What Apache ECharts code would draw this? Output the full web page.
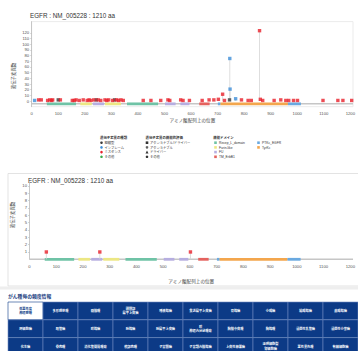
<!DOCTYPE html>
<html><head><meta charset="utf-8">
<script src="https://cdn.jsdelivr.net/npm/echarts@6/dist/echarts.min.js"></script>
<style>html,body{margin:0;padding:0;background:#fff}#c{width:358px;height:351px}</style>
</head><body><div id="c"></div>
<script>
// ---------------- data ----------------
const geneTitle = 'EGFR : NM_005228 : 1210 aa';
const proteinLength = 1210;
const xAxisName = 'アミノ酸配列上の位置';
const yAxisName = '遺伝子変異数';

const mutTypes = ['短縮型', 'インフレーム', 'ミスセンス', 'その他'];
const mutTypeColors = ['#3a3a3a', '#3f8fd8', '#e8212b', '#3aab4a'];
const evalTypes = ['アクショナブル/ドライバー', 'アクショナブル', 'ドライバー', 'その他'];
const evalSymbols = ['rect', 'cross', 'triangle', 'circle'];

const domainNames = ['Recep_L_domain', 'Furin-like', 'FU', 'TM_ErbB1', 'PTKc_EGFR', 'TyrKc'];
const domainColors = ['#6fc3a6', '#ece783', '#b6aee0', '#e4625e', '#6aa9e0', '#f3a64d'];
const domainStarts = [57, 183, 231, 276, 359, 502, 560, 631, 701, 711, 965];
const domainEnds   = [167, 226, 272, 336, 476, 542, 594, 670, 711, 965, 1014];
const domainKinds  = [0, 1, 2, 1, 0, 2, 2, 3, 4, 5, 4];

// top chart: all registered variants
const topPos   = [11, 26, 36, 60, 68, 75, 79, 100, 108, 153, 160, 167, 179, 194, 209, 216, 223, 234, 243, 250, 260, 276, 283, 290, 305, 312, 320, 327, 336, 345, 420, 449, 486, 513, 520, 561, 570, 594, 642, 668, 686, 703, 719, 726, 745, 746, 747, 768, 790, 815, 827, 858, 861, 870, 913, 938, 957, 968, 986, 1001, 1097, 1153, 1172, 1205];
const topCount = [1, 2, 2, 1, 2, 1, 2, 2, 2, 1, 1, 2, 1, 2, 1, 2, 1, 2, 2, 2, 1, 2, 1, 2, 1, 2, 2, 1, 2, 1, 1, 1, 1, 2, 1, 2, 1, 1, 1, 2, 2, 3, 12, 1, 2, 75, 21, 4, 2, 1, 1, 124, 3, 1, 1, 2, 1, 1, 1, 1, 1, 1, 1, 1];
const topType  = [1, 2, 2, 2, 2, 2, 2, 0, 2, 2, 2, 2, 2, 2, 2, 2, 2, 2, 0, 2, 2, 2, 2, 2, 2, 0, 2, 2, 2, 2, 2, 2, 2, 2, 2, 2, 2, 2, 2, 2, 2, 2, 2, 2, 0, 1, 1, 1, 2, 2, 2, 2, 2, 2, 2, 2, 2, 2, 2, 2, 2, 2, 2, 2];

// bottom chart: selected cancer type
const botPos   = [63, 263, 602];
const botCount = [1, 1, 1];
const botType  = [2, 2, 2];

const topYTicks = [0, 10, 20, 30, 40, 50, 60, 70, 80, 90, 100, 110, 120];
const botYTicks = [1, 2, 3, 4, 5, 6, 7, 8, 9, 10];

const tableTitle = 'がん種毎の頻度情報';
const cancerTypes = [
  '低悪性度\n神経膠腫', '多形膠芽腫', '髄膜腫', '頭頸部\n扁平上皮癌', '唾液腺癌', '食道扁平上皮癌', '胃腺癌', '小腸癌', '結腸腺癌', '直腸腺癌',
  '肝細胞癌', '胆管癌', '膵腺癌', '肺腺癌', '肺扁平上皮癌', '膵\n神経内分泌腫瘍', '胸膜中皮腫', '胸腺腫', '浸潤性乳管癌', '浸潤性小葉癌',
  '化生癌', '骨肉腫', '消化管間質腫瘍', '軟部肉腫', '子宮頸癌', '子宮類内膜腺癌', '上皮性卵巣癌', '淡明細胞型\n腎細胞癌', '悪性黒色腫', '有棘細胞癌'
];
const selectedCancer = 0;

// ---------------- chart ----------------
const FONT = "'Liberation Sans','Noto Sans CJK JP',sans-serif";
const chart = echarts.init(document.getElementById('c'), null, {renderer: 'svg'});

function pts(pos, cnt, typ, t) {
  const out = [];
  pos.forEach((p, i) => { if (typ[i] === t) out.push([p, cnt[i]]); });
  return out;
}
function stems(pos, cnt) { return pos.map((p, i) => [p, cnt[i]]); }
function domains(yb) { return domainStarts.map((s, i) => [s, domainEnds[i], domainKinds[i], yb]); }

function backboneItem(params, api) {
  const a = api.coord([api.value(0), api.value(2)]);
  const b = api.coord([api.value(1), api.value(2)]);
  return {type: 'line', shape: {x1: a[0], y1: a[1], x2: b[0], y2: b[1]}, style: {stroke: '#c6c6c6', lineWidth: 1.5}};
}
function domainItem(params, api) {
  const a = api.coord([api.value(0), api.value(3)]);
  const b = api.coord([api.value(1), api.value(3)]);
  return {type: 'rect', shape: {x: a[0], y: a[1] - 1.4, width: b[0] - a[0], height: 2.8}, style: {fill: domainColors[api.value(2)]}};
}
function stemItem(params, api) {
  const a = api.coord([api.value(0), 0]);
  const b = api.coord([api.value(0), api.value(1)]);
  return {type: 'line', shape: {x1: a[0], y1: a[1], x2: b[0], y2: b[1]}, style: {stroke: '#d4d4d4', lineWidth: 0.8}};
}

function chartSeries(idx, pos, cnt, typ, yb) {
  const s = [
    {type: 'custom', xAxisIndex: idx, yAxisIndex: idx, renderItem: backboneItem, data: [[0, proteinLength, yb]], silent: true, z: 1},
    {type: 'custom', xAxisIndex: idx, yAxisIndex: idx, renderItem: domainItem, data: domains(yb), silent: true, z: 2},
    {type: 'custom', xAxisIndex: idx, yAxisIndex: idx, renderItem: stemItem, data: stems(pos, cnt), silent: true, z: 3}
  ];
  mutTypes.forEach((m, t) => {
    s.push({type: 'scatter', name: m, xAxisIndex: idx, yAxisIndex: idx, symbol: 'rect', symbolSize: 3.4,
      itemStyle: {color: mutTypeColors[t]}, data: pts(pos, cnt, typ, t), z: 4});
  });
  return s;
}

const axisLabelStyle = {fontSize: 4.2, color: '#555', fontFamily: FONT};

function xAx(idx, gap) {
  return {type: 'value', gridIndex: idx, min: 0, max: proteinLength, interval: 100,
    name: xAxisName, nameLocation: 'middle', nameGap: gap,
    nameTextStyle: {fontSize: 4.6, color: '#444', fontFamily: FONT},
    axisLine: {show: false}, axisTick: {show: false}, splitLine: {show: false},
    axisLabel: Object.assign({margin: 5, showMaxLabel: false, formatter: v => String(v)}, axisLabelStyle)};
}
function yAx(idx, min, max, interval, ticks) {
  return {type: 'value', gridIndex: idx, min: min, max: max, interval: interval,
    axisLine: {show: true, lineStyle: {color: '#bbb', width: 0.8}},
    axisTick: {show: true, length: 1.5, lineStyle: {color: '#bbb', width: 0.6},
      customValues: ticks},
    splitLine: {show: false},
    axisLabel: Object.assign({margin: 2.5, customValues: ticks,
      formatter: v => (ticks.indexOf(v) >= 0 ? String(v) : '')}, axisLabelStyle)};
}

// ---- legend graphics ----
const legend = [];
const LY = [142.7, 147.4, 152.1, 156.8];
const hdr = (x, text) => ({type: 'text', x: x, y: 137.9,
  style: {text: text, fontSize: 3.4, fill: '#333', fontWeight: 'bold', fontFamily: FONT, textVerticalAlign: 'middle'}});
const lt = (x, y, text) => ({type: 'text', x: x, y: y,
  style: {text: text, fontSize: 3.3, fill: '#333', fontFamily: FONT, textVerticalAlign: 'middle'}});
legend.push(hdr(100, '遺伝子変異の種類'));
mutTypes.forEach((m, i) => {
  legend.push({type: 'circle', shape: {cx: 101.5, cy: LY[i], r: 1.3}, style: {fill: mutTypeColors[i]}});
  legend.push(lt(104.5, LY[i], m));
});
legend.push(hdr(145.5, '遺伝子変異の機能的評価'));
evalTypes.forEach((m, i) => {
  const cx = 147, cy = LY[i];
  let shp;
  if (evalSymbols[i] === 'rect') shp = {type: 'rect', shape: {x: cx - 1.3, y: cy - 1.3, width: 2.6, height: 2.6}, style: {fill: '#333'}};
  else if (evalSymbols[i] === 'cross') shp = {type: 'group', children: [
    {type: 'rect', shape: {x: cx - 0.45, y: cy - 1.5, width: 0.9, height: 3}, style: {fill: '#333'}},
    {type: 'rect', shape: {x: cx - 1.3, y: cy - 0.7, width: 2.6, height: 0.9}, style: {fill: '#333'}}]};
  else if (evalSymbols[i] === 'triangle') shp = {type: 'polygon', shape: {points: [[cx, cy - 1.5], [cx + 1.5, cy + 1.3], [cx - 1.5, cy + 1.3]]}, style: {fill: '#333'}};
  else shp = {type: 'circle', shape: {cx: cx, cy: cy, r: 1.3}, style: {fill: '#333'}};
  legend.push(shp);
  legend.push(lt(150, LY[i], m));
});
legend.push(hdr(213.3, '機能ドメイン'));
domainNames.forEach((d, i) => {
  const col = i < 4 ? 0 : 1, row = i < 4 ? i : i - 4;
  const mx = col === 0 ? 215.5 : 258.5;
  legend.push({type: 'rect', shape: {x: mx - 1.3, y: LY[row] - 1.3, width: 2.6, height: 2.6}, style: {fill: domainColors[i]}});
  legend.push(lt(mx + 3.5, LY[row], d));
});

// ---- titles, axis names, cards ----
const yName = (x, y) => ({type: 'text', x: x, y: y, rotation: Math.PI / 2,
  style: {text: yAxisName, fontSize: 4.4, fill: '#444', fontFamily: FONT, textAlign: 'center', textVerticalAlign: 'middle'}});
const deco = [
  {type: 'text', x: 30, y: 15.8, style: {text: geneTitle, fontSize: 6.3, fill: '#333', fontFamily: FONT, textVerticalAlign: 'middle'}},
  yName(13.5, 76),
  {type: 'rect', shape: {x: 8, y: 173.5, width: 360, height: 112.5}, style: {fill: 'none', stroke: '#dcdcdc', lineWidth: 0.8}},
  {type: 'text', x: 28, y: 180.3, style: {text: geneTitle, fontSize: 6.3, fill: '#333', fontFamily: FONT, textVerticalAlign: 'middle'}},
  yName(12.5, 215),
  {type: 'rect', shape: {x: 0, y: 286.5, width: 358, height: 3}, style: {fill: '#eeeeee'}},
  {type: 'text', x: 8, y: 296.3, style: {text: tableTitle, fontSize: 4.8, fill: '#173c80', fontWeight: 'bold', fontFamily: FONT, textVerticalAlign: 'middle'}}
];

// ---- cancer-type table ----
const table = [];
const TX = 8, TY = 302, CW = 35, RH = 17.8;
cancerTypes.forEach((name, i) => {
  const r = Math.floor(i / 10), c = i % 10;
  const sel = i === selectedCancer;
  table.push({type: 'rect', shape: {x: TX + c * CW, y: TY + r * RH, width: CW, height: RH},
    style: {fill: sel ? '#ffffff' : '#0c3a86', stroke: sel ? '#0c3a86' : '#6f8cbf', lineWidth: 0.6}});
  table.push({type: 'text', x: TX + c * CW + CW / 2, y: TY + r * RH + RH / 2,
    style: {text: name, fontSize: 3.2, lineHeight: 4.6, fill: sel ? '#0c3a86' : '#ffffff', fontWeight: 'bold', fontFamily: FONT,
      textAlign: 'center', textVerticalAlign: 'middle'}});
});

const option = {
  animation: false,
  textStyle: {fontFamily: FONT},
  grid: [
    {left: 31.7, top: 21.6, width: 326.7, height: 85.1, show: true, borderColor: '#e6e6e6', borderWidth: 0.8, backgroundColor: 'transparent'},
    {left: 29.5, top: 182.3, width: 328.9, height: 77, show: false}
  ],
  xAxis: [xAx(0, 11), xAx(1, 20)],
  yAxis: [yAx(0, -10, 140, 10, topYTicks), yAx(1, 0, 10.5, 1, botYTicks)],
  series: chartSeries(0, topPos, topCount, topType, -5).concat(chartSeries(1, botPos, botCount, botType, 0)),
  graphic: deco.concat(legend, table)
};
chart.setOption(option);
</script></body></html>
